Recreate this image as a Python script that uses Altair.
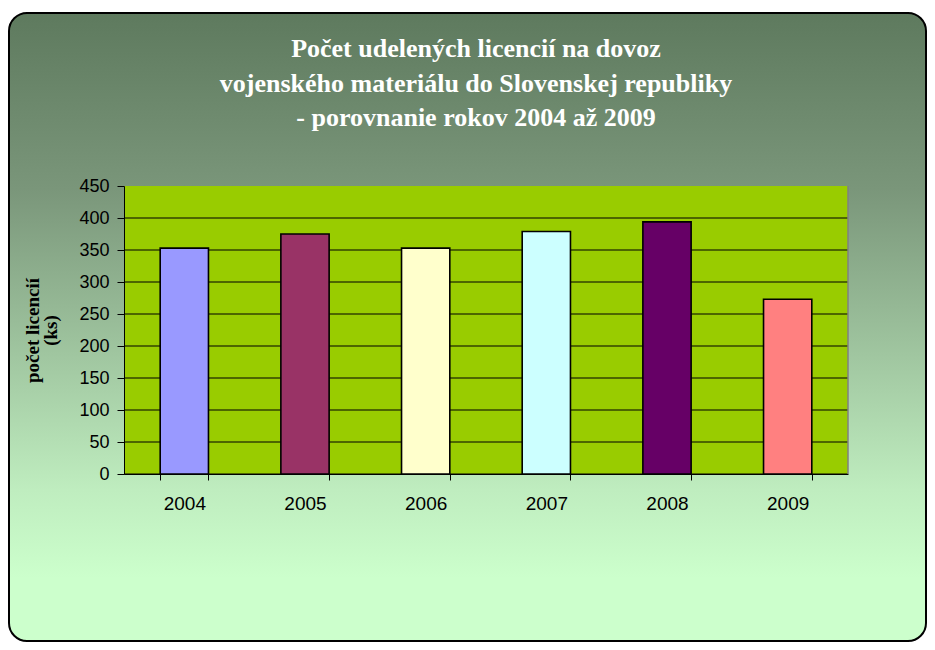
import altair as alt
import pandas as pd

years = ["2004", "2005", "2006", "2007", "2008", "2009"]
counts = [353, 375, 353, 379, 394, 273]
bar_colors = ["#9999FF", "#993366", "#FFFFCC", "#CCFFFF", "#660066", "#FF8080"]
y_ticks = [0, 50, 100, 150, 200, 250, 300, 350, 400, 450]
grid_values = [0, 50, 100, 150, 200, 250, 300, 350, 400]
title_lines = [
    "Počet udelených licencií na dovoz",
    "vojenského materiálu do Slovenskej republiky",
    "- porovnanie rokov 2004 až 2009",
]
y_title = ["počet licencií", "(ks)"]

W, H = 724, 288
PL, PT = 116, 178
PR = 919 - PL - W
PB = 634 - PT - H

df = pd.DataFrame({"year": years, "count": counts})
gdf = pd.DataFrame({"count": grid_values})

yscale = alt.Scale(domain=[0, 450], nice=False, zero=True)
xscale = alt.Scale(domain=years, paddingInner=0.6, paddingOuter=0.3)

y_axis = alt.Axis(
    values=y_ticks, title=y_title, titleFont="Liberation Serif", titleFontSize=19,
    titleFontWeight="bold", titleColor="black", titleAngle=-90, titleX=-92, titleY=H / 2,
    titleAlign="center", titleBaseline="middle", titleLineHeight=18,
    labelFont="Liberation Sans", labelFontSize=18, labelColor="black",
    tickSize=7, tickColor="black", domainColor="black", labelPadding=8,
    grid=False, zindex=1,
)
x_axis = alt.Axis(
    title=None, labelAngle=0, labelFont="Liberation Sans", labelFontSize=19,
    labelColor="black", tickBand="extent", tickSize=6, tickColor="black",
    domainColor="black", labelPadding=14, grid=False, zindex=1,
)

one = alt.Data(values=[{}])

bg = alt.Chart(one).mark_rect(
    fill=alt.LinearGradient(
        gradient="linear",
        stops=[
            alt.GradientStop(color="#5E7A5E", offset=0),
            alt.GradientStop(color="#7A967A", offset=0.28),
            alt.GradientStop(color="#BFEDBF", offset=0.76),
            alt.GradientStop(color="#CCFFCC", offset=0.9),
            alt.GradientStop(color="#CCFFCC", offset=1),
        ],
        x1=0, x2=0, y1=0, y2=1,
    ),
    stroke="black", strokeWidth=2, cornerRadius=18,
).encode(x=alt.value(-PL + 1), x2=alt.value(W + PR - 1), y=alt.value(-PT + 5), y2=alt.value(H + PB - 1))

plot_bg = alt.Chart(one).mark_rect(fill="#99CC00").encode(
    x=alt.value(0), x2=alt.value(W), y=alt.value(0), y2=alt.value(H)
)

right_border = alt.Chart(one).mark_rule(color="#808080", strokeWidth=1.5).encode(
    x=alt.value(W), y=alt.value(0), y2=alt.value(H)
)

grid = alt.Chart(gdf).mark_rule(color="black", strokeWidth=1).encode(
    y=alt.Y("count:Q", scale=yscale, axis=y_axis)
)

bars = alt.Chart(df).mark_bar(stroke="black", strokeWidth=1.6).encode(
    x=alt.X("year:N", scale=xscale, axis=x_axis, sort=years),
    y=alt.Y("count:Q", scale=yscale, axis=y_axis),
    color=alt.Color("year:N", scale=alt.Scale(domain=years, range=bar_colors), legend=None),
)

title = alt.Chart(one).mark_text(
    text="\n".join(title_lines), lineBreak="\n", font="Liberation Serif", fontSize=26,
    fontWeight="bold", color="white", align="center", baseline="alphabetic", lineHeight=34.5,
).encode(x=alt.value(352), y=alt.value(-129))

chart = alt.layer(bg, plot_bg, grid, right_border, bars, title).properties(
    width=W, height=H,
    autosize=alt.AutoSizeParams(type="none"),
    padding={"left": PL, "top": PT, "right": PR, "bottom": PB},
    background="white",
).configure_view(stroke=None)

chart.save("out.html", embed_options={"renderer": "svg", "actions": False})
